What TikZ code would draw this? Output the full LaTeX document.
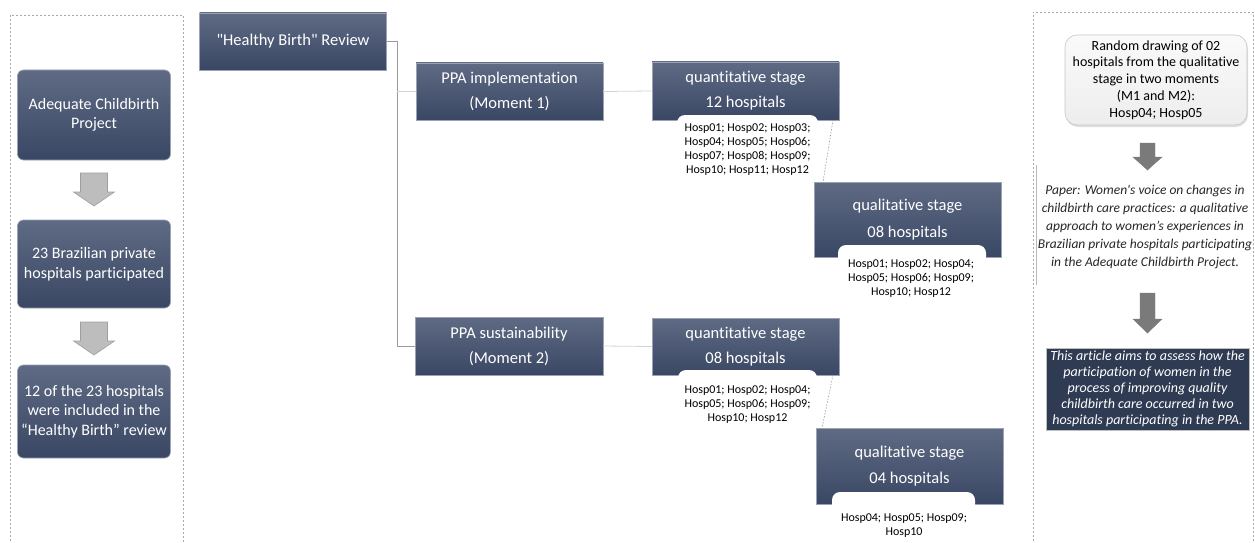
\documentclass[tikz,border=0pt]{standalone}
\usepackage{fontspec}
\newfontfamily\calfont{Carlito}[Ligatures={NoCommon,NoContextual}]
\usetikzlibrary{calc,shadows}
\definecolor{navytop}{HTML}{5F6B84}
\definecolor{navybot}{HTML}{3A4764}
\definecolor{boxedge}{HTML}{9AA3B4}
\definecolor{darknavy}{HTML}{2F3B53}
\definecolor{panelgray}{HTML}{A8A8A8}
\definecolor{linegray}{HTML}{9C9C9C}
\definecolor{lightline}{HTML}{D4D4D4}
\definecolor{arrowlight}{HTML}{BDBDBD}
\definecolor{arrowlightedge}{HTML}{9E9E9E}
\definecolor{arrowdark}{HTML}{7A7A7A}
\newcommand\blockarrow[7]{%
  \draw[#1] (#2-#6,#3) -- (#2+#6,#3) -- (#2+#6,#4) -- (#2+#7,#4) -- (#2,#5)
    -- (#2-#7,#4) -- (#2-#6,#4) -- cycle;}
\begin{document}
\begin{tikzpicture}[x=1pt,y=-1pt,
  every node/.style={inner sep=0pt,outer sep=0pt},
  navybox/.style={draw=boxedge,line width=0.6pt,top color=navytop,bottom color=navybot,
    text=white,align=center},
  leftbox/.style={navybox,rounded corners=6pt,minimum width=153,
    font=\calfont\fontsize{16}{19.5}\selectfont},
  treebox/.style={navybox,font=\calfont\fontsize{16.5}{25}\selectfont},
  qualbox/.style={navybox,font=\calfont\fontsize{16.5}{26.5}\selectfont},
  tab/.style={fill=white,rounded corners=8pt,minimum height=30,anchor=north},
  listtext/.style={align=center,anchor=north,font=\calfont\fontsize{12}{14}\selectfont},
  panel/.style={draw=panelgray,line width=0.8pt,dash pattern=on 2pt off 2pt},
  trunk/.style={draw=linegray,line width=0.8pt},
  branch/.style={draw=lightline,line width=0.8pt},
  dashlink/.style={draw=linegray,line width=0.6pt,dash pattern=on 1.5pt off 1.5pt},
  lightarrow/.style={fill=arrowlight,draw=arrowlightedge,line width=0.6pt},
  darkarrow/.style={fill=arrowdark,draw=arrowdark,line width=0.4pt},
]
\useasboundingbox (0,0) rectangle (1255,543);

% ---------- panels ----------
\draw[panel] (10,545) -- (10,15) -- (183,15) -- (183,545);
\draw[panel] (1033,545) -- (1033,12) -- (1253,12) -- (1253,545);

% ---------- left column ----------
\node[leftbox,minimum height=90] (a1) at (94,115) {Adequate Childbirth\\Project};
\node[leftbox,minimum height=88] (a2) at (94,264) {23 Brazilian private\\hospitals participated};
\node[leftbox,minimum height=93] (a3) at (94,411.5) {12 of the 23 hospitals\\were included in the\\“Healthy Birth” review};
\blockarrow{lightarrow}{94}{173}{192}{206}{13.5}{20.5}
\blockarrow{lightarrow}{94}{322}{341}{355}{13.5}{20.5}

% ---------- tree ----------
\node[treebox,minimum width=187,minimum height=57] (rev) at (293,41.5) {"Healthy Birth" Review};
\node[treebox,minimum width=187,minimum height=57] (pi) at (509.5,91.5) {PPA implementation\\(Moment 1)};
\node[treebox,minimum width=188,minimum height=58] (ps) at (509,346) {PPA sustainability\\(Moment 2)};

\coordinate (jt) at (397,41.5);
\coordinate (jm) at (397,91.5);
\coordinate (jb) at (397,346);
\draw[trunk] (rev.east) -- (jt) -- (jb) -- (ps.west);
\draw[branch] (jm) -- (pi.west);

\node[treebox,minimum width=187,minimum height=58] (q1) at (745.5,91) {quantitative stage\\12 hospitals};
\node[treebox,minimum width=187,minimum height=57] (q2) at (745.5,346.5) {quantitative stage\\08 hospitals};
\draw[branch] (pi.east) -- (q1.west);
\draw[branch] (ps.east) -- (q2.west);

\node[qualbox,minimum width=187,minimum height=75] (ql1) at (907.5,219.5) {qualitative stage\\08 hospitals};
\node[qualbox,minimum width=187,minimum height=76] (ql2) at (909.5,466) {qualitative stage\\04 hospitals};

% white tabs under the boxes
\node[tab,minimum width=141] (t1) at (747.5,115) {};
\node[tab,minimum width=139] (t2) at (747.5,370) {};
\node[tab,minimum width=148] (t3) at (912,245) {};
\node[tab,minimum width=143] (t4) at (903.5,492) {};

\node[listtext] (l1) at (747.5,124)
  {Hosp01; Hosp02; Hosp03;\\Hosp04; Hosp05; Hosp06;\\Hosp07; Hosp08; Hosp09;\\Hosp10; Hosp11; Hosp12};
\node[listtext] (l2) at (747.5,385.5)
  {Hosp01; Hosp02; Hosp04;\\Hosp05; Hosp06; Hosp09;\\Hosp10; Hosp12};
\node[listtext] (l3) at (911,260)
  {Hosp01; Hosp02; Hosp04;\\Hosp05; Hosp06; Hosp09;\\Hosp10; Hosp12};
\node[listtext] (l4) at (904,514)
  {Hosp04; Hosp05; Hosp09;\\Hosp10};

\coordinate (d1a) at ($(q1.south east)+(-6,0)$);
\coordinate (d1b) at ($(ql1.north west)+(9,0)$);
\coordinate (d2a) at ($(q2.south east)+(-6,0)$);
\coordinate (d2b) at ($(ql2.north west)+(6,0)$);
\draw[dashlink] (d1a) -- (d1b);
\draw[dashlink] (d2a) -- (d2b);

% ---------- right column ----------
\node[draw=gray!45,line width=0.6pt,rounded corners=12pt,top color=gray!4,bottom color=gray!14,
  drop shadow={opacity=0.25,shadow xshift=1pt,shadow yshift=-2pt},
  minimum width=182,minimum height=90,align=center,
  font=\calfont\fontsize{14}{16.8}\selectfont] (rnd) at (1156,80)
  {Random drawing of 02\\hospitals from the qualitative\\stage in two moments\\(M1 and M2):\\Hosp04; Hosp05};
\blockarrow{darkarrow}{1147.5}{143}{157}{170}{7.5}{14.5}

\node[align=center,font=\calfont\itshape\fontsize{13.5}{18}\selectfont,text=black!85] (paper) at (1145,227)
  {Paper: Women's voice on changes in\\childbirth care practices: a qualitative\\approach to women’s experiences in\\Brazilian private hospitals participating\\in the Adequate Childbirth Project.};
\draw[draw=gray!55,line width=0.6pt] (1036,165) -- (1036,285);
\blockarrow{darkarrow}{1147.5}{293}{319}{333}{7.5}{14.5}

\node[fill=darknavy,draw=gray!50,line width=0.5pt,minimum width=203,minimum height=82,
  align=center,text=white,font=\calfont\itshape\fontsize{14}{16}\selectfont] (aim) at (1147.5,389)
  {This article aims to assess how the\\participation of women in the\\process of improving quality\\childbirth care occurred in two\\hospitals participating in the PPA.};
\end{tikzpicture}
\end{document}
